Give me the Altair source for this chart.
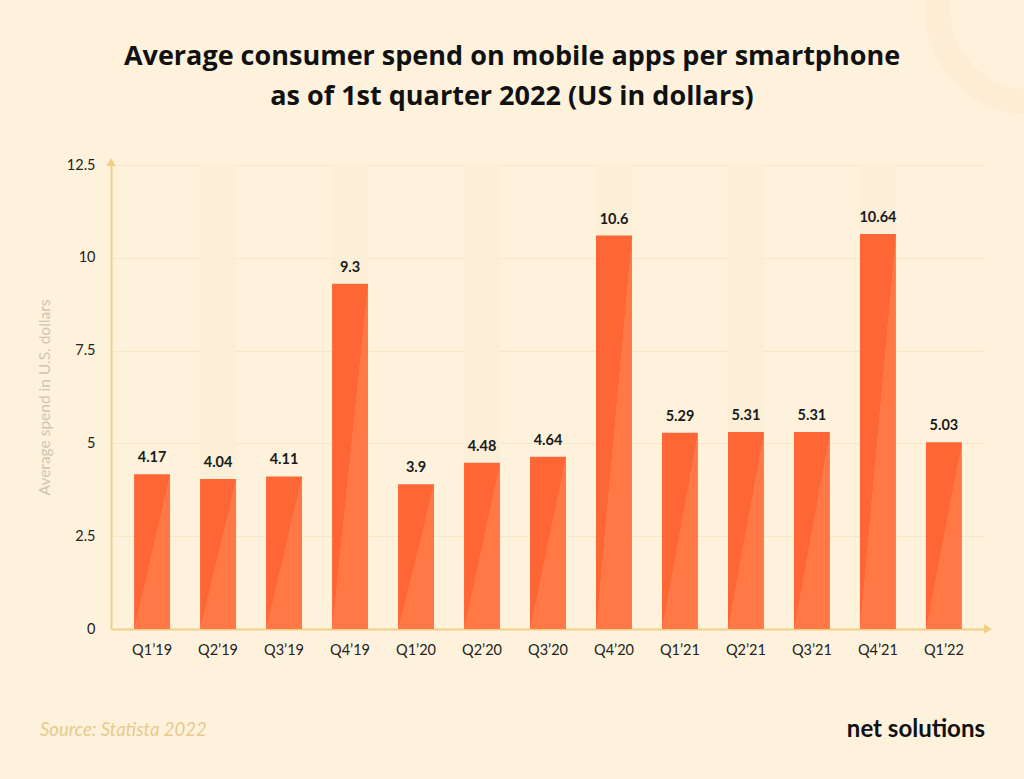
import altair as alt
import pandas as pd

quarters = ["Q1’19", "Q2’19", "Q3’19", "Q4’19", "Q1’20", "Q2’20", "Q3’20",
            "Q4’20", "Q1’21", "Q2’21", "Q3’21", "Q4’21", "Q1’22"]
values = [4.17, 4.04, 4.11, 9.3, 3.9, 4.48, 4.64, 10.6, 5.29, 5.31, 5.31, 10.64, 5.03]
labels = ["4.17", "4.04", "4.11", "9.3", "3.9", "4.48", "4.64", "10.6",
          "5.29", "5.31", "5.31", "10.64", "5.03"]
y_ticks = [0, 2.5, 5, 7.5, 10, 12.5]
y_max = 12.5

title_line1 = "Average consumer spend on mobile apps per smartphone"
title_line2 = "as of 1st quarter 2022 (US in dollars)"
y_title = "Average spend in U.S. dollars"
source_text = "Source: Statista 2022"
logo_text = "net solutions"

BG = "#FEF2DC"
SHADE = "#FCEFD7"
GOLD = "#F2CF85"
FONT = "Lato"
TFONT = "Open Sans"

W, H = 874, 464

df = pd.DataFrame({
    "quarter": quarters,
    "value": values,
    "label": labels,
    "shade": [y_max if i % 2 == 1 else 0 for i in range(len(quarters))],
})

xscale = alt.Scale(domain=quarters, paddingInner=0.455, paddingOuter=0.35)
yscale = alt.Scale(domain=[0, y_max], nice=False)

x_enc = alt.X("quarter:N", scale=xscale, sort=quarters,
              axis=alt.Axis(title=None, labelAngle=0, labelFontSize=14.5, labelFont=FONT,
                            labelColor="#222222", labelPadding=14, ticks=False,
                            domainColor=GOLD, domainWidth=2, grid=False))

base = alt.Chart(df)

one = pd.DataFrame({"a": [0]})

ring = alt.Chart(one).mark_point(
    shape="circle", filled=False, stroke="#FCEDD4", strokeWidth=25, size=33856, opacity=1
).encode(x=alt.value(919), y=alt.value(-155))

shade = base.transform_filter("datum.shade > 0").mark_bar(color=SHADE).encode(
    x=x_enc,
    y=alt.Y("shade:Q", scale=yscale,
            axis=alt.Axis(title=y_title, values=y_ticks, labelExpr="'' + datum.value",
                          labelFontSize=14.5, labelFont=FONT, labelColor="#222222",
                          labelPadding=16, ticks=False, domainColor=GOLD, domainWidth=2,
                          grid=True, gridColor="#F8E6C6", gridWidth=1,
                          titleFont=FONT, titleFontSize=15.5, titleFontWeight="normal",
                          titleColor="#CFC6B4", titlePadding=14)),
)

bars = base.mark_bar(
    color=alt.Gradient(
        gradient="linear",
        stops=[alt.GradientStop(offset=0, color="#FF6636"),
               alt.GradientStop(offset=0.5, color="#FF6636"),
               alt.GradientStop(offset=0.5, color="#FF7846"),
               alt.GradientStop(offset=1, color="#FF7846")],
        x1=0, y1=0, x2=1, y2=1,
    )
).encode(x=x_enc, y=alt.Y("value:Q", scale=yscale))

text = base.mark_text(
    baseline="bottom", dy=-9, fontSize=14.5, fontWeight="bold", font=FONT, color="#1A1A1A"
).encode(x=x_enc, y=alt.Y("value:Q", scale=yscale), text="label:N")

arrow_y = alt.Chart(one).mark_point(
    shape="triangle-up", filled=True, color=GOLD, size=90, opacity=1
).encode(x=alt.value(0), y=alt.value(-3))

arrow_x = alt.Chart(one).mark_point(
    shape="triangle-right", filled=True, color=GOLD, size=90, opacity=1
).encode(x=alt.value(W + 3), y=alt.value(H))

title1 = alt.Chart(one).mark_text(
    align="center", baseline="middle", fontSize=27, fontWeight="bold", font=TFONT, color="#111111"
).encode(x=alt.value(401), y=alt.value(-108), text=alt.value(title_line1))

title2 = alt.Chart(one).mark_text(
    align="center", baseline="middle", fontSize=27, fontWeight="bold", font=TFONT, color="#111111"
).encode(x=alt.value(401), y=alt.value(-68), text=alt.value(title_line2))

source = alt.Chart(one).mark_text(
    align="left", baseline="middle", fontSize=18.5, fontStyle="italic", font=FONT, color="#E6CA8E"
).encode(x=alt.value(-71), y=alt.value(565), text=alt.value(source_text))

logo = alt.Chart(one).mark_text(
    align="right", baseline="middle", fontSize=24, fontWeight="bold", font=FONT, color="#111111"
).encode(x=alt.value(874), y=alt.value(565), text=alt.value(logo_text))

chart = alt.layer(ring, shade, bars, text, arrow_y, arrow_x, title1, title2, source, logo).properties(
    width=W, height=H,
    autosize=alt.AutoSizeParams(type="none"),
    padding={"left": 111, "top": 165, "right": 39, "bottom": 150},
    background=BG,
).configure_view(stroke=None)

chart.save("out.html", embed_options={"renderer": "svg", "actions": False})
